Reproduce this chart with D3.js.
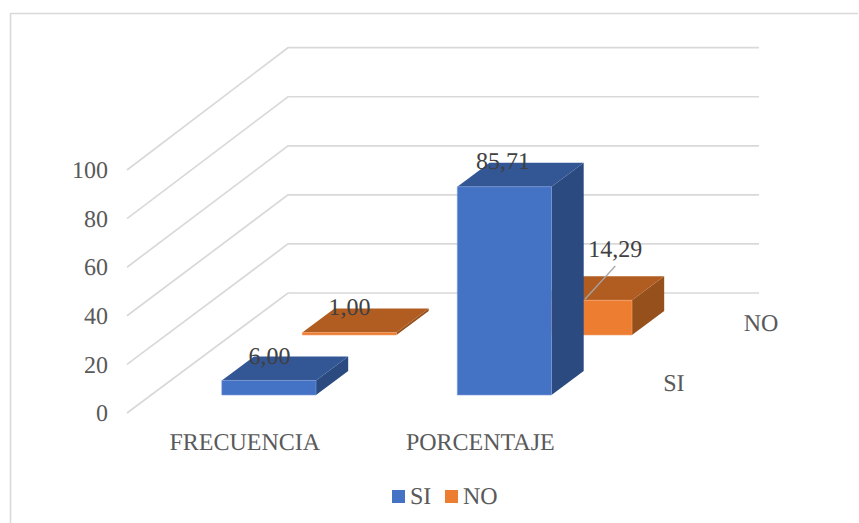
<!DOCTYPE html>
<html>
<head>
<meta charset="utf-8">
<script src="https://cdn.jsdelivr.net/npm/d3@7"></script>
<style>
  html, body { margin: 0; padding: 0; background: #fff; overflow: hidden; }
  svg { display: block; }
  text { font-family: "Liberation Serif", serif; text-rendering: geometricPrecision; }
</style>
</head>
<body>
<svg id="chart"></svg>
<script>
const categories = ["FRECUENCIA", "PORCENTAJE"];
const seriesNames = ["SI", "NO"];
const siValues = [6, 85.71];
const noValues = [1, 14.29];
const yTicks = [0, 20, 40, 60, 80, 100];

const width = 859, height = 523;
const depthX = 161, depthY = 120;   // how far the back wall is shifted from the front edge
const fontSize = 24;

const colors = {
  SI: { front: "#4472c4", top: "#335695", side: "#2a4a80", edge: "#7c9ad6" },
  NO: { front: "#ed7d31", top: "#b15d22", side: "#96501c", edge: "#f4a46e" }
};

const svg = d3.select("#chart").attr("width", width).attr("height", height);

const x = d3.scaleBand().domain(categories).range([127, 598])
  .paddingInner(0.6).paddingOuter(0.3);
const y = d3.scaleLinear().domain([0, 100]).range([413, 170]);
const yBack = d3.scaleLinear().domain([0, 100]).range([293, 47.7]);
const z = d3.scaleBand().domain(seriesNames).range([0, 1])
  .paddingInner(0.6).paddingOuter(0.3);

// screen position of a chart point: x pixel, value, depth 0..1
const project = (px, v, d) => [px + d * depthX, y(v) - d * depthY];
const poly = pts => pts.map(p => p.join(",")).join(" ");

// outer frame, open past the page edge at the bottom
svg.append("path")
  .attr("d", `M10.5,${height + 2}V13.5H858`)
  .attr("fill", "none")
  .attr("stroke", "#d9d9d9")
  .attr("stroke-width", 1.6);

// gridlines run along the side wall and then across the back wall
const gridLine = d3.line();
svg.append("g").selectAll("path")
  .data(yTicks)
  .join("path")
  .attr("d", t => gridLine([
    [x.range()[0], y(t)],
    [x.range()[0] + depthX, yBack(t)],
    [x.range()[1] + depthX, yBack(t)]
  ]))
  .attr("fill", "none")
  .attr("stroke", "#d9d9d9")
  .attr("stroke-width", 1.7);

const bars = [];
seriesNames.slice().reverse().forEach(s => {
  const vals = s === "SI" ? siValues : noValues;
  categories.forEach((c, i) => bars.push({ series: s, category: c, value: vals[i] }));
});

const bar = svg.append("g").selectAll("g")
  .data(bars)
  .join("g");

bar.each(function (d) {
  const g = d3.select(this);
  const x0 = x(d.category), x1 = x0 + x.bandwidth();
  const d0 = z(d.series), d1 = d0 + z.bandwidth();
  const c = colors[d.series];

  g.append("polygon")
    .attr("points", poly([project(x1, 0, d0), project(x1, 0, d1), project(x1, d.value, d1), project(x1, d.value, d0)]))
    .attr("fill", c.side);
  g.append("polygon")
    .attr("points", poly([project(x0, d.value, d0), project(x1, d.value, d0), project(x1, d.value, d1), project(x0, d.value, d1)]))
    .attr("fill", c.top);
  g.append("polygon")
    .attr("points", poly([project(x0, 0, d0), project(x1, 0, d0), project(x1, d.value, d0), project(x0, d.value, d0)]))
    .attr("fill", c.front)
    .attr("stroke", c.edge)
    .attr("stroke-width", 0.6);
});

// value axis
const yAxis = svg.append("g")
  .attr("transform", `translate(${x.range()[0] - 12},0)`)
  .call(d3.axisLeft(y).tickValues(yTicks).tickSize(0).tickPadding(7));
yAxis.select(".domain").remove();

// category axis
const xAxis = svg.append("g")
  .attr("transform", `translate(0,${y(0)})`)
  .call(d3.axisBottom(x).tickSize(0).tickPadding(20));
xAxis.select(".domain").remove();

svg.selectAll(".tick text")
  .attr("font-family", '"Liberation Serif", serif')
  .attr("font-size", fontSize)
  .attr("fill", "#595959");

// series names along the right floor edge
svg.append("g").selectAll("text")
  .data(seriesNames)
  .join("text")
  .attr("x", s => project(x.range()[1], 0, z(s) + z.bandwidth() / 2)[0] + 25)
  .attr("y", s => project(x.range()[1], 0, z(s) + z.bandwidth() / 2)[1] + 8)
  .attr("font-size", fontSize)
  .attr("fill", "#595959")
  .text(s => s);

// data labels, nudged from the top of each bar
const labelNudge = {
  "SI|FRECUENCIA": [-15.5, -4.4], "NO|FRECUENCIA": [-16, -5.6],
  "SI|PORCENTAJE": [-17.5, -5.7], "NO|PORCENTAJE": [14.3, -31.3]
};
const labelAnchor = d => {
  const d0 = z(d.series) + z.bandwidth() / 2;
  const p = project(x(d.category) + x.bandwidth() / 2, d.value, d0);
  const n = labelNudge[d.series + "|" + d.category];
  return [p[0] + n[0], p[1] + n[1]];
};

// leader line for the one label that sits away from its bar
const leaderBar = bars.find(d => d.series === "NO" && d.category === "PORCENTAJE");
const leaderStart = project(x(leaderBar.category), leaderBar.value, z("NO") + z.bandwidth() / 2);
const leaderEnd = labelAnchor(leaderBar);
svg.append("line")
  .attr("x1", leaderStart[0] + 31)
  .attr("y1", leaderStart[1] + 11)
  .attr("x2", leaderEnd[0])
  .attr("y2", leaderEnd[1] + 9)
  .attr("stroke", "#a6a6a6")
  .attr("stroke-width", 1.2);

svg.append("g").selectAll("text")
  .data(bars)
  .join("text")
  .attr("x", d => labelAnchor(d)[0])
  .attr("y", d => labelAnchor(d)[1])
  .attr("text-anchor", "middle")
  .attr("font-size", fontSize)
  .attr("fill", "#404040")
  .text(d => d.value.toFixed(2).replace(".", ","));

// legend
const legendX = { SI: 392, NO: 445 };
const legend = svg.append("g").selectAll("g")
  .data(seriesNames)
  .join("g")
  .attr("transform", s => `translate(${legendX[s]},490)`);
legend.append("rect")
  .attr("width", 13)
  .attr("height", 13)
  .attr("fill", s => colors[s].front);
legend.append("text")
  .attr("x", 18)
  .attr("y", 13.5)
  .attr("font-size", fontSize)
  .attr("fill", "#595959")
  .text(s => s);
</script>
</body>
</html>
